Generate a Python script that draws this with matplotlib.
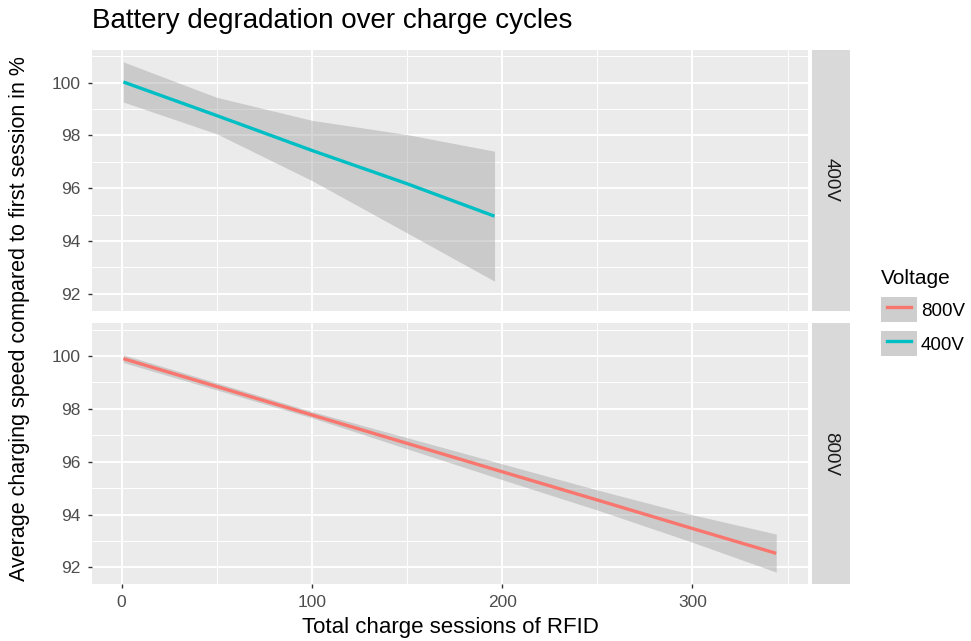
import matplotlib
matplotlib.use("Agg")
import matplotlib.pyplot as plt
from matplotlib.patches import Patch
from matplotlib.lines import Line2D
from matplotlib.legend_handler import HandlerTuple

plt.rcParams['font.family'] = ['Liberation Sans', 'DejaVu Sans']

# values (fit line and confidence band)
x_400 = [1, 50, 100, 150, 196]
fit_400 = [100.02, 98.75, 97.43, 96.17, 94.94]
upper_400 = [100.78, 99.44, 98.57, 98.03, 97.40]
lower_400 = [99.26, 98.06, 96.29, 94.31, 92.48]

x_800 = [1, 100, 200, 250, 300, 344]
fit_800 = [99.90, 97.77, 95.62, 94.55, 93.47, 92.53]
upper_800 = [100.05, 97.90, 95.92, 94.93, 93.99, 93.26]
lower_800 = [99.75, 97.66, 95.32, 94.17, 92.95, 91.82]

facets = ['400V', '800V']
legend_labels = ['800V', '400V']
colors = {'800V': '#F8766D', '400V': '#00BFC4'}
x_ticks = [0, 100, 200, 300]
y_ticks = [92, 94, 96, 98, 100]

W, H = 971, 641
fig = plt.figure(figsize=(W / 100, H / 100), dpi=100)


def box(l, t, r, b):
    return [l / W, 1 - b / H, (r - l) / W, (b - t) / H]


panels = {'400V': box(92, 49.5, 808, 310.5), '800V': box(92, 323, 808, 584)}
strips = {'400V': box(812, 49.5, 850, 310.5), '800V': box(812, 323, 850, 584)}
series = {
    '400V': (x_400, fit_400, upper_400, lower_400),
    '800V': (x_800, fit_800, upper_800, lower_800),
}

for name in facets:
    ax = fig.add_axes(panels[name])
    ax.set_facecolor('#EBEBEB')
    for s in ax.spines.values():
        s.set_visible(False)
    ax.set_xlim(-15.5, 360.7)
    ax.set_ylim(91.37, 101.25)
    ax.set_xticks(x_ticks)
    ax.set_yticks(y_ticks)
    ax.set_xticks([50, 150, 250, 350], minor=True)
    ax.set_yticks([93, 95, 97, 99, 101], minor=True)
    ax.grid(which='major', color='white', lw=1.4)
    ax.grid(which='minor', color='white', lw=0.7)
    ax.set_axisbelow(True)
    ax.tick_params(which='minor', length=0)
    ax.tick_params(which='major', length=3, width=1, color='#333333',
                   labelcolor='#4D4D4D', labelsize=12.5, pad=5)
    if name == '400V':
        ax.tick_params(axis='x', length=0, labelbottom=False)

    xs, fit, up, lo = series[name]
    ax.fill_between(xs, lo, up, color='#999999', alpha=0.4, lw=0)
    ax.plot(xs, fit, color=colors[name], lw=2.4, solid_capstyle='butt')

    sax = fig.add_axes(strips[name])
    sax.set_facecolor('#D9D9D9')
    sax.set_xticks([])
    sax.set_yticks([])
    for s in sax.spines.values():
        s.set_visible(False)
    sax.text(0.5, 0.5, name, rotation=-90, ha='center', va='center',
             fontsize=13.5, color='#1A1A1A', transform=sax.transAxes)

fig.text(92 / W, 1 - 21 / H, 'Battery degradation over charge cycles',
         fontsize=20, ha='left', va='center', color='black')
fig.text(450 / W, 1 - 628 / H, 'Total charge sessions of RFID',
         fontsize=16, ha='center', va='center')
fig.text(20 / W, 1 - 319 / H,
         'Average charging speed compared to first session in %',
         fontsize=15.5, rotation=90, ha='center', va='center')

handles = []
for lab in legend_labels:
    handles.append((Patch(facecolor='#CECECE', edgecolor='none'),
                    Line2D([], [], color=colors[lab], lw=2.4)))
leg = fig.legend(handles, legend_labels, title='Voltage',
                 handler_map={tuple: HandlerTuple(ndivide=1, pad=0)},
                 loc='upper left', bbox_to_anchor=(881 / W, 1 - 269 / H),
                 frameon=False, fontsize=13.5, title_fontsize=15,
                 handlelength=1.92, handleheight=1.65, labelspacing=0.5,
                 handletextpad=0.2, alignment='left', borderaxespad=0,
                 borderpad=0, numpoints=2)

fig.savefig('out.png', dpi=100)
